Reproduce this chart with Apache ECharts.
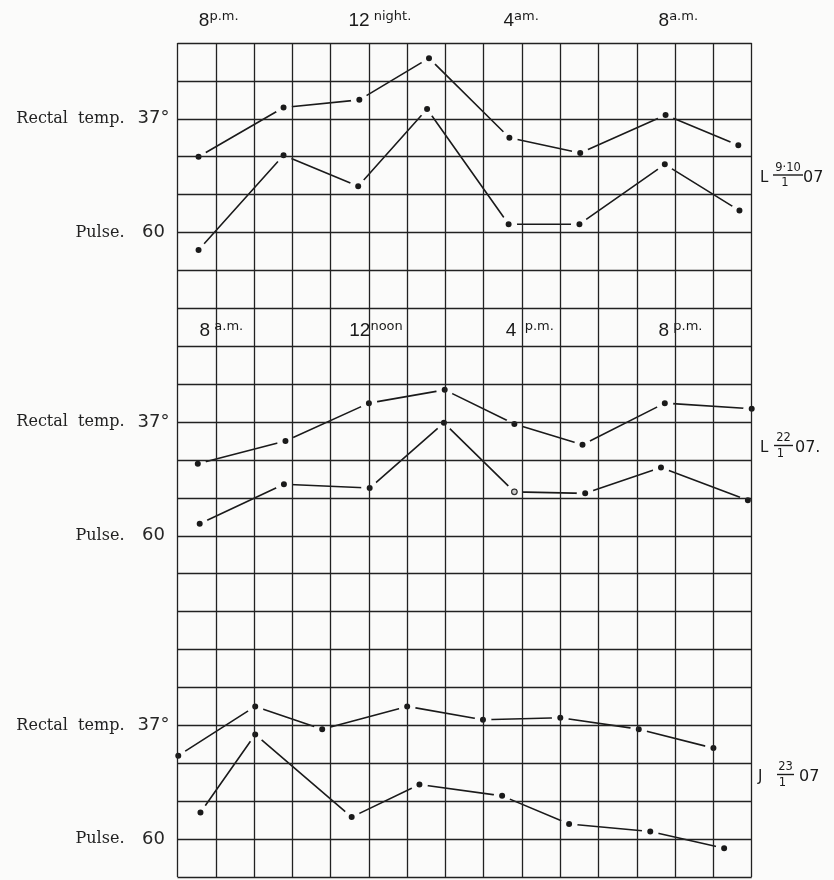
<!DOCTYPE html>
<html><head><meta charset="utf-8">
<script src="https://cdn.jsdelivr.net/npm/echarts@6/dist/echarts.min.js"></script>
<style>html,body{margin:0;padding:0;background:#fbfbfa}#c{width:834px;height:880px}</style>
</head><body><div id="c"></div>
<script>
// ---------- data ----------
// time axis: one grid column = one hour, 0 = left edge of the chart
const p1TempTime  = [0.55, 2.77, 4.75, 6.57, 8.67, 10.52, 12.75, 14.65];
const p1Temp      = [36.80, 37.06, 37.10, 37.32, 36.90, 36.82, 37.02, 36.86];
const p1PulseTime = [0.55, 2.77, 4.72, 6.52, 8.65, 10.50, 12.73, 14.68];
const p1Pulse     = [57.7, 70.2, 66.1, 76.3, 61.1, 61.1, 69.0, 62.9];

const p2TempTime  = [0.53, 2.82, 5.00, 6.98, 8.80, 10.58, 12.73, 15.00];
const p2Temp      = [36.78, 36.90, 37.10, 37.17, 36.99, 36.88, 37.10, 37.07];
const p2PulseTime = [0.58, 2.78, 5.02, 6.96, 8.80, 10.65, 12.63, 14.90];
const p2Pulse     = [61.6, 66.8, 66.3, 74.9, 65.8, 65.6, 69.0, 64.7];
const p2PulseOpen = [4];

const p3TempTime  = [0.02, 2.03, 3.78, 6.00, 7.98, 10.00, 12.05, 14.00];
const p3Temp      = [36.84, 37.10, 36.98, 37.10, 37.03, 37.04, 36.98, 36.88];
const p3PulseTime = [0.60, 2.03, 4.55, 6.32, 8.48, 10.23, 12.35, 14.28];
const p3Pulse     = [63.5, 73.8, 62.9, 67.2, 65.7, 62.0, 61.0, 58.8];

// scale: grid rows (from top) carrying the 37° and 60 reference lines
const tempRows  = [2, 10, 18];
const pulseRows = [5, 13, 21];
const TEMP_REF = 37, PULSE_REF = 60, TEMP_PER_ROW = 0.2, PULSE_PER_ROW = 5;
const COLS = 15, ROWS = 22;

// tick / axis labels
const tempName = 'Rectal  temp.', tempTick = '37°';
const pulseName = 'Pulse.', pulseTick = '60';
const p1TimeMain = ['8', '12', '4', '8'];
const p1TimeSup  = ['p.m.', ' night.', 'am.', 'a.m.'];
const p1TimeAt   = [0.57, 4.48, 8.53, 12.58];
const p1TimeRow  = -0.57;
const p2TimeMain = ['8', '12', '4', '8'];
const p2TimeSup  = [' a.m.', 'noon', '  p.m.', ' p.m.'];
const p2TimeAt   = [0.59, 4.50, 8.59, 12.58];
const p2TimeRow  = 7.61;

const rightLead = ['L', 'L', 'J'];
const rightNum  = ['9·10', '22', '23'];
const rightDen  = ['1', '1', '1'];
const rightTail = ['07', '07.', '07'];

// ---------- style ----------
const BG = '#fbfbfa', INK = '#1a1a1a', GRIDC = '#222';
const SANS = '"DejaVu Sans", sans-serif';
const TXT = '#1a1a1a';

const chart = echarts.init(document.getElementById('c'));

const yAxes = [{
  type: 'value', min: 0, max: ROWS, interval: 1, inverse: true, z: 10,
  axisLine: {show: false}, axisTick: {show: false},
  splitLine: {show: true, lineStyle: {color: GRIDC, width: 1.3}},
  axisLabel: {
    show: true, margin: 9, color: TXT,
    formatter: v => {
      if (tempRows.includes(v)) return '{a|' + tempName + '}{b|' + tempTick + '}';
      if (pulseRows.includes(v)) return '{a|' + pulseName + '}{b|' + pulseTick + '}';
      return '';
    },
    rich: {
      a: {fontFamily: '"DejaVu Serif", serif', fontSize: 16, color: '#222', lineHeight: 20},
      b: {fontFamily: SANS, fontSize: 18, color: '#262626', width: 30, align: 'left', padding: [0, 0, 0, 14], lineHeight: 20}
    }
  }
}];
tempRows.forEach(r => yAxes.push({type: 'value', show: false,
  max: TEMP_REF + r * TEMP_PER_ROW, min: TEMP_REF + (r - ROWS) * TEMP_PER_ROW}));
pulseRows.forEach(r => yAxes.push({type: 'value', show: false,
  max: PULSE_REF + r * PULSE_PER_ROW, min: PULSE_REF + (r - ROWS) * PULSE_PER_ROW}));

function dotLine(times, vals, yIdx) {
  return {
    type: 'line', xAxisIndex: 0, yAxisIndex: yIdx, z: 3, clip: false, silent: true,
    data: times.map((t, i) => [t, vals[i]]),
    symbol: 'circle', symbolSize: 11.5, showSymbol: true,
    lineStyle: {color: INK, width: 1.6},
    itemStyle: {color: INK, borderColor: BG, borderWidth: 5.5}
  };
}
function timeLabels(at, row, main, sup) {
  return {
    type: 'scatter', xAxisIndex: 0, yAxisIndex: 0, z: 5, clip: false, silent: true,
    symbolSize: 1, itemStyle: {color: 'rgba(0,0,0,0)'},
    data: at.map((x, i) => ({value: [x, row], m: main[i], s: sup[i]})),
    label: {
      show: true, position: [0, 0], align: 'left', verticalAlign: 'middle',
      color: TXT, opacity: 1, textBorderWidth: 0,
      formatter: p => '{n|' + p.data.m + '}{s|' + p.data.s + '}',
      rich: {
        n: {fontFamily: '"Liberation Sans", sans-serif', fontSize: 19, color: TXT, lineHeight: 21},
        s: {fontFamily: SANS, fontSize: 13, color: TXT, lineHeight: 12, verticalAlign: 'top'}
      }
    }
  };
}

const series = [
  dotLine(p1TempTime, p1Temp, 1), dotLine(p1PulseTime, p1Pulse, 4),
  dotLine(p2TempTime, p2Temp, 2), dotLine(p2PulseTime, p2Pulse, 5),
  dotLine(p3TempTime, p3Temp, 3), dotLine(p3PulseTime, p3Pulse, 6),
  {
    type: 'scatter', xAxisIndex: 0, yAxisIndex: 5, z: 4, silent: true, clip: false,
    data: p2PulseOpen.map(i => [p2PulseTime[i], p2Pulse[i]]),
    symbol: 'circle', symbolSize: 5.5,
    itemStyle: {color: BG, borderColor: INK, borderWidth: 1.2}
  },
  timeLabels(p1TimeAt, p1TimeRow, p1TimeMain, p1TimeSup),
  timeLabels(p2TimeAt, p2TimeRow, p2TimeMain, p2TimeSup)
];

// right-hand case labels (layout only)
const rightLayout = [
  {x: 760, cy: 178, fx: 788, fw: 30, tx: 803},
  {x: 760, cy: 448.5, fx: 783.5, fw: 19, tx: 795},
  {x: 758, cy: 777.5, fx: 785.5, fw: 17, tx: 799}
];
const graphic = [];
rightLayout.forEach((L, i) => {
  const txt = (t, x, y, size, align) => ({type: 'text', x, y, silent: true,
    style: {text: t, font: size + 'px ' + SANS, fill: TXT, align, verticalAlign: 'middle'}});
  graphic.push(txt(rightLead[i], L.x, L.cy, 15, 'left'));
  graphic.push(txt(rightNum[i], L.fx, L.cy - 10, 11.5, 'center'));
  graphic.push({type: 'line', silent: true,
    shape: {x1: L.fx - L.fw / 2, y1: L.cy - 3, x2: L.fx + L.fw / 2, y2: L.cy - 3},
    style: {stroke: TXT, lineWidth: 1.4}});
  graphic.push(txt(rightDen[i], L.fx - 3, L.cy + 5.5, 11.5, 'center'));
  graphic.push(txt(rightTail[i], L.tx, L.cy - 0.5, 16, 'left'));
});

chart.setOption({
  animation: false,
  backgroundColor: BG,
  grid: {left: 177.5, top: 43, width: 574.2, height: 834, containLabel: false},
  xAxis: {
    type: 'value', min: 0, max: COLS, interval: 1, z: 10,
    axisLine: {show: false}, axisTick: {show: false}, axisLabel: {show: false},
    splitLine: {show: true, lineStyle: {color: GRIDC, width: 1.3}}
  },
  yAxis: yAxes,
  series,
  graphic
});
</script></body></html>
